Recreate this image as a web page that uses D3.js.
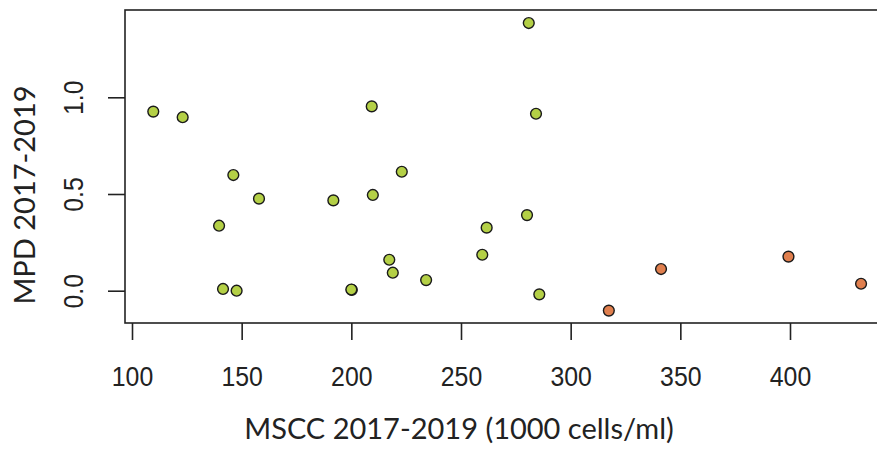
<!DOCTYPE html>
<html>
<head>
<meta charset="utf-8">
<script src="https://cdn.jsdelivr.net/npm/d3@7"></script>
<style>
  html, body { margin: 0; padding: 0; background: #fff; }
  svg { display: block; }
</style>
</head>
<body>
<svg id="chart" width="877" height="450"></svg>
<script>
// MSCC (1000 cells/ml) vs MPD, 2017-2019
const mscc = [109.7, 123.1, 146.2, 157.9, 139.7, 141.5, 147.7, 191.8, 209.3, 223.0,
              209.8, 200.2, 200.0, 217.3, 218.9, 234.1, 259.7, 261.7, 280.9, 284.2,
              280.1, 285.7, 317.4, 341.2, 399.3, 432.4];
const mpd  = [0.926, 0.897, 0.598, 0.476, 0.336, 0.009, 0.000, 0.467, 0.953, 0.615,
              0.495, 0.004, 0.006, 0.160, 0.093, 0.055, 0.186, 0.326, 1.384, 0.915,
              0.391, -0.019, -0.103, 0.112, 0.176, 0.036];
const group = ["a","a","a","a","a","a","a","a","a","a",
               "a","a","a","a","a","a","a","a","a","a",
               "a","a","b","b","b","b"];
const xTicks = [100, 150, 200, 250, 300, 350, 400];
const yTicks = [0.0, 0.5, 1.0];
const xTitle = "MSCC 2017-2019 (1000 cells/ml)";
const yTitle = "MPD 2017-2019";

const fill = d3.scaleOrdinal().domain(["a", "b"]).range(["#b4d046", "#e07f4e"]);

const svg = d3.select("#chart");
const box = { left: 125, top: 10, right: 885, bottom: 323 };

const x = d3.scaleLinear().domain([100, 400]).range([132, 790]);
const y = d3.scaleLinear().domain([0, 1]).range([290.7, 97.3]);

const tickFont = "'Liberation Sans', Arial, sans-serif";
const titleFont = "Lato, 'Open Sans', sans-serif";

// plot frame (right side runs past the visible area)
svg.append("rect")
  .attr("x", box.left).attr("y", box.top)
  .attr("width", box.right - box.left).attr("height", box.bottom - box.top)
  .attr("fill", "none").attr("stroke", "#222").attr("stroke-width", 1.6);

// x axis
const xAxis = svg.append("g")
  .attr("transform", `translate(0,${box.bottom})`)
  .call(d3.axisBottom(x).tickValues(xTicks).tickSize(17).tickPadding(6).tickFormat(d3.format("d")));
xAxis.select(".domain").remove();
xAxis.selectAll(".tick line").attr("stroke", "#222").attr("stroke-width", 1.6);
xAxis.selectAll(".tick text")
  .attr("font-family", tickFont)
  .attr("font-size", 27).attr("fill", "#222")
  .attr("y", 0).attr("dy", 0)
  .attr("transform", "translate(0,63) scale(0.92,1)");

// y axis, labels rotated parallel to the axis
const yAxis = svg.append("g")
  .attr("transform", `translate(${box.left},0)`)
  .call(d3.axisLeft(y).tickValues(yTicks).tickSize(17).tickFormat(d3.format(".1f")));
yAxis.select(".domain").remove();
yAxis.selectAll(".tick line").attr("stroke", "#222").attr("stroke-width", 1.6);
yAxis.selectAll(".tick text")
  .attr("font-family", tickFont)
  .attr("font-size", 27).attr("fill", "#222")
  .attr("text-anchor", "middle")
  .attr("x", 0).attr("dy", 0)
  .attr("transform", "translate(-42,0) rotate(-90) scale(0.92,1)");

// axis titles
svg.append("text")
  .attr("x", 459).attr("y", 439)
  .attr("text-anchor", "middle")
  .attr("font-family", titleFont)
  .attr("font-size", 29).attr("fill", "#222")
  .text(xTitle);

svg.append("text")
  .attr("transform", `translate(35,195) rotate(-90)`)
  .attr("text-anchor", "middle")
  .attr("font-family", titleFont)
  .attr("font-size", 29).attr("fill", "#222")
  .text(yTitle);

// points
const pts = mscc.map((v, i) => ({ x: v, y: mpd[i], g: group[i] }));
svg.append("g").selectAll("circle")
  .data(pts)
  .join("circle")
  .attr("cx", d => x(d.x))
  .attr("cy", d => y(d.y))
  .attr("r", 5.4)
  .attr("fill", d => fill(d.g))
  .attr("stroke", "#1a1a1a")
  .attr("stroke-width", 1.4);
</script>
</body>
</html>
